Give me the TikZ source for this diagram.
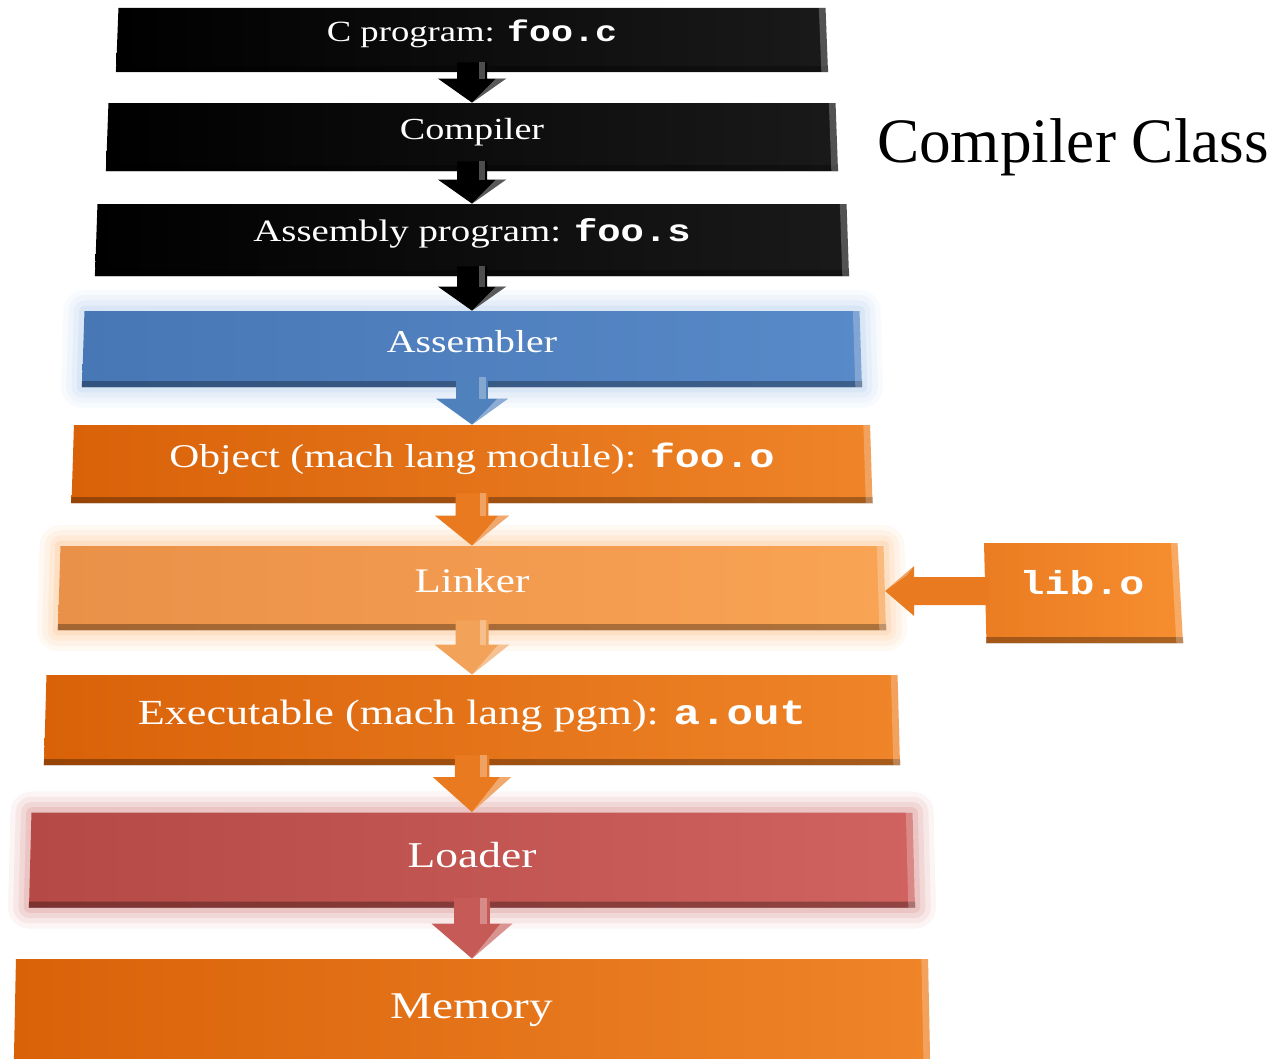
\documentclass[tikz,border=0pt]{standalone}
\usepackage{fontspec}
\setmainfont{Liberation Serif}
\newfontfamily\boxfont[FakeStretch=1.25]{Liberation Serif}
\newfontfamily\boxmono[FakeStretch=1.25]{Liberation Mono}
\usetikzlibrary{shapes.geometric,calc,positioning}

\definecolor{asmL}{HTML}{4877B5}
\definecolor{asmR}{HTML}{5889C8}
\definecolor{asmglow}{HTML}{8DB3E2}
\definecolor{asmblue}{HTML}{4F81BD}
\definecolor{objL}{HTML}{D96209}
\definecolor{objR}{HTML}{EF8428}
\definecolor{objarrow}{HTML}{E97A1F}
\definecolor{linkL}{HTML}{EA9149}
\definecolor{linkR}{HTML}{F9A354}
\definecolor{linkglow}{HTML}{F9A04A}
\definecolor{linkarrow}{HTML}{F3A25A}
\definecolor{loadL}{HTML}{B44946}
\definecolor{loadR}{HTML}{D0625F}
\definecolor{loadglow}{HTML}{C0504D}
\definecolor{loadarrow}{HTML}{C65A57}
\definecolor{libL}{HTML}{EB7C21}
\definecolor{libR}{HTML}{F68E30}

\newcommand{\fsize}[1]{\fontsize{#1}{#1}\selectfont}

\begin{document}
\begin{tikzpicture}[
  stage/.style={shape=trapezium,trapezium left angle=85,trapezium right angle=85,
    trapezium stretches body=true,inner sep=2pt},
  blackbox/.style={stage,left color=black,right color=black!90!white},
  bluebox/.style={stage,left color=asmL,right color=asmR,glow=asmglow},
  orangebox/.style={stage,left color=objL,right color=objR},
  linkbox/.style={stage,left color=linkL,right color=linkR,glow=linkglow},
  loadbox/.style={stage,left color=loadL,right color=loadR,glow=loadglow},
  glow/.style={preaction={draw=#1,opacity=.06,line width=24pt,line join=round},
    preaction={draw=#1,opacity=.08,line width=18pt,line join=round},
    preaction={draw=#1,opacity=.1,line width=12pt,line join=round},
    preaction={draw=#1,opacity=.14,line width=6pt,line join=round}},
  lbl/.style={text=white,anchor=base,inner sep=0pt,font={\boxfont\fsize{#1}}}]
\useasboundingbox (0,0) rectangle (25.76,-21.16);

% the stages
\node[blackbox,minimum width=14.24cm,minimum height=1.28cm] (cprog) at (9.44,-0.8) {\strut};
\node[blackbox,minimum width=14.64cm,minimum height=1.36cm] (comp) at (9.44,-2.74) {\strut};
\node[blackbox,minimum width=15.08cm,minimum height=1.44cm] (asmprog) at (9.44,-4.8) {\strut};
\node[bluebox,minimum width=15.6cm,minimum height=1.52cm] (asm) at (9.44,-6.98) {\strut};
\node[orangebox,minimum width=16.02cm,minimum height=1.56cm] (obj) at (9.44,-9.28) {\strut};
\node[linkbox,minimum width=16.56cm,minimum height=1.68cm] (link) at (9.44,-11.76) {\strut};
\node[orangebox,minimum width=17.12cm,minimum height=1.8cm] (exe) at (9.44,-14.4) {\strut};
\node[loadbox,minimum width=17.72cm,minimum height=1.9cm] (load) at (9.44,-17.2) {\strut};
\node[orangebox,minimum width=18.34cm,minimum height=2.4cm] (mem) at (9.44,-20.38) {\strut};
\node[stage,left color=libL,right color=libR,trapezium left angle=95,trapezium right angle=79,
  minimum width=3.98cm,minimum height=2cm] (lib) at (21.64,-11.86) {\strut};

% bevels
\foreach \n in {cprog,comp,asmprog,asm,obj,link,exe,load,mem,lib}{
  \fill[black,opacity=.3] (\n.bottom left corner) -- (\n.bottom right corner)
    -- ($(\n.bottom right corner)!3.5pt!(\n.top right corner)$)
    -- ($(\n.bottom left corner)!3.5pt!(\n.top left corner)$) -- cycle;
  \fill[white,opacity=.25] (\n.top right corner) -- (\n.bottom right corner)
    -- ($(\n.bottom right corner)!4pt!(\n.bottom left corner)$)
    -- ($(\n.top right corner)!4pt!(\n.top left corner)$) -- cycle;
}

% arrows between the stages
\foreach \a/\b/\c/\s/\l in {cprog/comp/black/1/.48, comp/asmprog/black/1/.48,
    asmprog/asm/black/1/.48, asm/obj/asmblue/1.06/.52, obj/link/objarrow/1.09/.6,
    link/exe/linkarrow/1.1/.6, exe/load/objarrow/1.15/.7, load/mem/loadarrow/1.19/.7}{
  \fill[\c] ($(\a.south)+(-.3*\s,.2)$) -- ($(\b.north)+(-.3*\s,\l)$)
    -- ($(\b.north)+(-.68*\s,\l)$) -- (\b.north) -- ($(\b.north)+(.68*\s,\l)$)
    -- ($(\b.north)+(.3*\s,\l)$) -- ($(\a.south)+(.3*\s,.2)$) -- cycle;
  \fill[white,opacity=.35] (\b.north) -- ($(\b.north)+(.68*\s,\l)$)
    -- ($(\b.north)+(.48*\s,\l)$) -- cycle;
  \fill[white,opacity=.3] ($(\a.south)+(.14*\s,.2)$) rectangle ($(\b.north)+(.26*\s,\l)$);
}
\fill[objarrow] ($(link.east -| lib.west)+(.08,-.34)$) -- ($(link.east)+(.58,-.34)$)
  -- ($(link.east)+(.58,-.56)$) -- ($(link.east)+(0,-.06)$) -- ($(link.east)+(.58,.44)$)
  -- ($(link.east)+(.58,.22)$) -- ($(link.east -| lib.west)+(.08,.22)$) -- cycle;
\fill[white,opacity=.3] ($(link.east)+(0,-.06)$) -- ($(link.east)+(.58,.44)$)
  -- ($(link.east)+(.44,.26)$) -- cycle;

% texts
\node[lbl=16.7] (cprogtxt) at (9.44,-.84) {C program: {\boxmono\bfseries foo.c}};
\node[lbl=17.4] (comptxt) at (9.44,-2.78) {Compiler};
\node[lbl=17.7] (asmprogtxt) at (9.44,-4.82) {Assembly program: {\boxmono\bfseries foo.s}};
\node[lbl=18.1] (asmtxt) at (9.44,-7.04) {Assembler};
\node[lbl=18.9] (objtxt) at (9.44,-9.34) {Object (mach lang module): {\boxmono\bfseries foo.o}};
\node[lbl=19.6] (linktxt) at (9.44,-11.84) {Linker};
\node[lbl=20.1] (exetxt) at (9.44,-14.48) {Executable (mach lang pgm): {\boxmono\bfseries a.out}};
\node[lbl=20.7] (loadtxt) at (9.44,-17.34) {Loader};
\node[lbl=21.5] (memtxt) at (9.44,-20.36) {Memory};
\node[lbl=18.9] (libtxt) at (21.64,-11.88) {\boxmono\bfseries lib.o};
\node[anchor=base,font=\fsize{36}] (title) at (21.46,-3.24) {Compiler Class};
\end{tikzpicture}
\end{document}
